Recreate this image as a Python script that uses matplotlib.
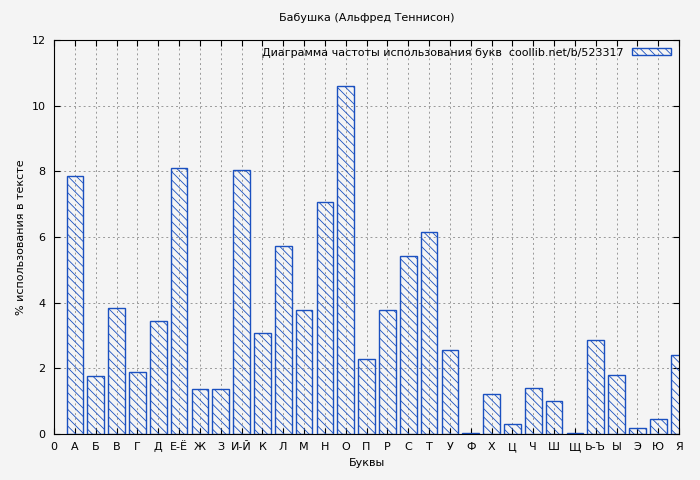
import matplotlib.pyplot as plt

letters = ['А', 'Б', 'В', 'Г', 'Д', 'Е-Ё', 'Ж', 'З', 'И-Й', 'К', 'Л', 'М', 'Н', 'О', 'П',
           'Р', 'С', 'Т', 'У', 'Ф', 'Х', 'Ц', 'Ч', 'Ш', 'Щ', 'Ь-Ъ', 'Ы', 'Э', 'Ю', 'Я']
percent = [7.85, 1.77, 3.85, 1.88, 3.45, 8.1, 1.37, 1.37, 8.05, 3.07, 5.73, 3.77, 7.07, 10.6, 2.27,
           3.78, 5.42, 6.15, 2.55, 0.03, 1.22, 0.3, 1.4, 1.0, 0.03, 2.85, 1.8, 0.18, 0.45, 2.42]

plt.rcParams['font.family'] = ['DejaVu Sans']
plt.rcParams['font.size'] = 8
plt.rcParams['hatch.color'] = '#1a50c0'
plt.rcParams['hatch.linewidth'] = 0.6

fig = plt.figure(figsize=(7, 4.8), dpi=100, facecolor='#f4f4f4')
ax = fig.add_axes([54/700, 46/480, 625/700, 394/480])
ax.set_facecolor('#f4f4f4')

x = list(range(1, len(letters) + 1))
ax.bar(x, percent, width=0.8, facecolor='none', edgecolor='#1a50c0', hatch='\\\\\\\\',
       lw=1, label='Диаграмма частоты использования букв  coollib.net/b/523317', clip_on=True)

ax.set_xlim(0, 30)
ax.set_ylim(0, 12)
ax.set_xticks([0] + x)
ax.set_xticklabels(['0'] + letters)
ax.set_yticks(range(0, 13, 2))
ax.tick_params(direction='in', top=True, right=True, length=4, pad=6)
ax.grid(True, color='#999999', ls=(0, (2, 3)), lw=0.7)
ax.set_axisbelow(True)
for s in ax.spines.values():
    s.set_color('black')

ax.set_title('Бабушка (Альфред Теннисон)', fontsize=8, pad=14)
ax.set_xlabel('Буквы')
ax.set_ylabel('% использования в тексте')
ax.legend(loc='upper right', frameon=False, markerfirst=False, handlelength=3.5,
          handleheight=0.6, borderaxespad=0.3)

fig.savefig('out.png', dpi=100, facecolor=fig.get_facecolor())
